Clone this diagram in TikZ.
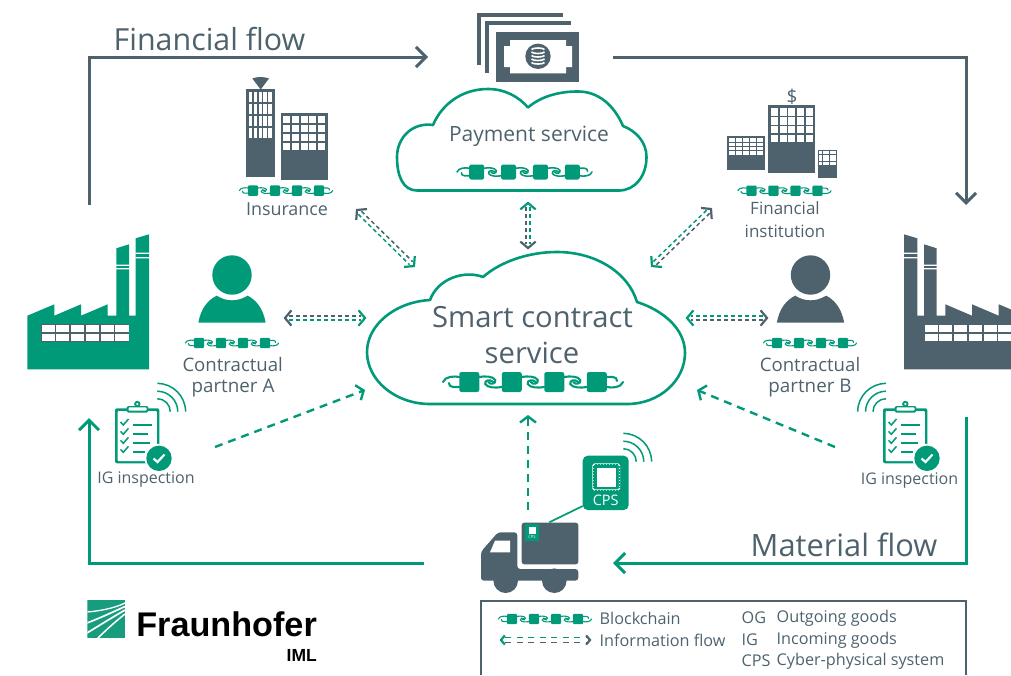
\documentclass[tikz,border=0pt]{standalone}
\usepackage{fontspec}
\setmainfont{Open Sans}
\newfontfamily\logofont{Liberation Sans}
\usetikzlibrary{calc,arrows.meta}
\definecolor{fhgreen}{HTML}{009A78}
\definecolor{fhgray}{HTML}{4E626D}
\definecolor{logogreen}{HTML}{179C7D}
\newcommand\fsz[1]{\fontsize{#1}{#1}\selectfont}
% white window cells
\newcommand\winds[7]{%
  \pgfmathsetmacro\wincw{(#3-#1-(#5-1)*#7)/#5}%
  \pgfmathsetmacro\winch{(#4-#2-(#6-1)*#7)/#6}%
  \foreach \i in {1,...,#5}{\foreach \j in {1,...,#6}{%
    \fill[white] ({#1+(\i-1)*(\wincw+#7)},{#2+(\j-1)*(\winch+#7)}) rectangle +(\wincw,\winch);
  }}}
% blockchain icon: x y scale
\newcommand\blockchain[3]{%
  \pgfmathsetmacro\chw{#3*2.1}%
  \pgfmathsetmacro\chr{#3*2.2}%
  \begin{scope}[shift={(#1,#2)},scale=#3]
    \foreach \bx in {-63.75,-21.25,21.25,63.75}{
      \fill[fhgreen,rounded corners=\chr pt] ({\bx-10},-10) rectangle ({\bx+10},10);}
    \begin{scope}[draw=fhgreen,line width=\chw pt,line cap=round]
      \foreach \bx in {-63.75,-21.25,21.25}{
        \draw ({\bx+10},-5) .. controls ({\bx+15},-6) and ({\bx+24},-6) .. ({\bx+26},-2) .. controls ({\bx+27},2) and ({\bx+21},3) .. ({\bx+19},0);
        \draw ({\bx+32.5},5) .. controls ({\bx+27},6) and ({\bx+18},6) .. ({\bx+16},2) .. controls ({\bx+15},-2) and ({\bx+21},-3) .. ({\bx+24},0);
      }
      \draw (-73.75,-5) .. controls (-78,-6) and (-88,-6) .. (-90,0);
      \draw (-73.75,5) -- (-80,5) .. controls (-83,5) and (-84,3) .. (-84,1);
      \draw (73.75,-5) -- (80,-5) .. controls (83,-5) and (84,-3) .. (84,-1);
      \draw (73.75,5) .. controls (78,6) and (88,6) .. (90,0);
    \end{scope}
  \end{scope}}
% double dashed information flow: [chevron length] a b colour-a colour-b
\newcommand\infoflow[5][10]{%
  \draw[infoline,#4] ($(#2)!4pt!(#3)!2.2pt!90:(#3)$) -- ($(#3)!4pt!(#2)!2.2pt!-90:(#2)$);
  \draw[infoline,#5] ($(#2)!4pt!(#3)!2.2pt!-90:(#3)$) -- ($(#3)!4pt!(#2)!2.2pt!90:(#2)$);
  \draw[chev,#4] ($(#2)!#1pt!50:(#3)$) -- (#2) -- ($(#2)!#1pt!-50:(#3)$);
  \draw[chev,#5] ($(#3)!#1pt!50:(#2)$) -- (#3) -- ($(#3)!#1pt!-50:(#2)$);
}
% factory drawn in the coordinates of the left one
\newcommand\factory[2]{%
  \fill[#1] (27.3,315.7) -- (54.3,304.3) -- (54.3,315.7) -- (81,304.3) -- (81,315.7) -- (107.7,304.3) -- (107.7,315.7)
    -- (116.3,315.7) -- (116.3,248.3) -- (129,244.3) -- (129,315.7) -- (135.7,315.7) -- (135.7,238.3) -- (149,234.3)
    -- (149,369.3) -- (27.3,369.3) -- cycle;
  \fill[white] (116,264.6) rectangle (129.3,265.9) (116,268) rectangle (129.3,269.3);
  \fill[white] (135.4,252.6) rectangle (149.3,253.9) (135.4,257) rectangle (149.3,258.3);
  \fill[#2] (40.7,323.7) rectangle (129.3,341.7);
  \winds{41.5}{324.5}{128.5}{340.9}{6}{2}{1.6}
}
\newcommand\persontwo[2]{%
  \begin{scope}[shift={(#1,0)}]
    \fill[#2] (232,275) circle[radius=19.7pt];
    \fill[#2] (198.3,322.7) .. controls (201,308) and (208,300) .. (216.7,295.7) .. controls (222,299) and (227,300.3) .. (232,300.3)
      .. controls (237,300.3) and (242,299) .. (247.7,295.7) .. controls (256,300) and (263,308) .. (265.7,322.7) -- cycle;
  \end{scope}}
% quarter wave arcs: x y direction
\newcommand\waves[3]{%
  \begin{scope}[shift={(#1,#2)},xscale=#3]
    \foreach \r in {13,20.5,28.3}{
      \draw[fhgreen,line width=1.5pt] (0,-\r) .. controls ({.55*\r},-\r) and (\r,{-.55*\r}) .. (\r,0);}
  \end{scope}}
\newcommand\clipcheck[1]{%
  \begin{scope}[shift={(#1,0)}]
    \fill[fhgreen,rounded corners=2pt] (115,408.3) rectangle (159.3,463.3);
    \fill[white,rounded corners=1pt] (117.6,411) rectangle (156.8,461);
    \fill[fhgreen] (137.3,404) circle[radius=3.2pt];
    \fill[white] (137.3,404) circle[radius=1.2pt];
    \fill[fhgreen,rounded corners=1.5pt] (126.7,406) rectangle (148.3,412.6);
    \fill[white,rounded corners=.8pt] (128.5,407.3) rectangle (146.5,410.6);
    \foreach \cy/\ll in {425/152.3,434.3/148,443.3/150,452.3/145}{
      \draw[fhgreen,line width=1.7pt] (133.3,\cy) -- (\ll,\cy);
      \draw[fhgreen,line width=1.5pt] (120.5,{\cy-3}) -- (123.3,{\cy}) -- (128.5,{\cy-6});
    }
    \fill[white] (159,458.3) circle[radius=14.4pt];
    \fill[fhgreen] (159,458.3) circle[radius=12.7pt];
    \draw[white,line width=2.2pt] (153.5,458.5) -- (157.5,462) -- (164.5,454.5);
  \end{scope}}
\tikzset{
  x=1pt,y=-1pt,
  lab/.style={text=fhgray,inner sep=0pt,align=center},
  cloudline/.style={draw=fhgreen,line width=2.6pt,line join=round},
  infoline/.style={line width=1.5pt,dash pattern=on 4pt off 3pt},
  chev/.style={line width=2.2pt,line join=miter},
  finflow/.style={draw=fhgray,line width=3pt,line join=miter,-{Straight Barb[length=10pt,width=20pt]}},
  matflow/.style={draw=fhgreen,line width=3pt,line join=miter,-{Straight Barb[length=10pt,width=20pt]}},
  dashflow/.style={draw=fhgreen,line width=2.4pt,dash pattern=on 8pt off 6pt,-{Straight Barb[length=6pt,width=16pt]}},
  leg/.style={text=fhgray,inner sep=0pt,anchor=west,font=\fsz{16.2}},
}
\begin{document}
\begin{tikzpicture}
\useasboundingbox (0,0) rectangle (1011,675);
% connector end points
\coordinate (finStart) at (89,205);
\coordinate (finCornerL) at (89,57);
\coordinate (finToMoney) at (428,57);
\coordinate (finFromMoney) at (613,57);
\coordinate (finCornerR) at (966,57);
\coordinate (finEnd) at (966,205);
\coordinate (matStart) at (966,417);
\coordinate (matCornerR) at (966,563);
\coordinate (matToTruck) at (613,563);
\coordinate (matFromTruck) at (424,563);
\coordinate (matCornerL) at (89,563);
\coordinate (matEnd) at (89,418);
\coordinate (insEnd) at (357,210);
\coordinate (insSmart) at (414,266);
\coordinate (payEnd) at (528,203);
\coordinate (paySmart) at (528,248);
\coordinate (bankEnd) at (711,209);
\coordinate (bankSmart) at (652,266);
\coordinate (partA) at (285,318);
\coordinate (partASmart) at (365,318);
\coordinate (partB) at (767,318);
\coordinate (partBSmart) at (687,318);
\coordinate (igA) at (215,447);
\coordinate (igASmart) at (365,390);
\coordinate (igB) at (835,447);
\coordinate (igBSmart) at (697,390);
\coordinate (truckUp) at (528,510);
\coordinate (truckSmart) at (528,415);
\coordinate (legA) at (501,640);
\coordinate (legB) at (590,640);
% flows
\draw[finflow] (finStart) -- (finCornerL) -- (finToMoney);
\draw[finflow] (finFromMoney) -- (finCornerR) -- (finEnd);
\draw[matflow] (matStart) -- (matCornerR) -- (matToTruck);
\draw[matflow] (matFromTruck) -- (matCornerL) -- (matEnd);
\node[lab,font=\fsz{30.4}] (fftext) at (209.5,39) {Financial flow};
\node[lab,font=\fsz{30.8}] (mftext) at (844,545) {Material flow};
% money
\fill[fhgray] (496,31.7) rectangle (579.3,81.7);
\draw[fhgray,line width=4pt] (487.3,72.7) -- (487.3,23.3) -- (571.3,23.3);
\draw[fhgray,line width=4pt] (479.3,64.7) -- (479.3,14.7) -- (562.7,14.7);
\fill[white] (510,40) -- (566,40) -- (566,46) -- (572,46) -- (572,67) -- (566,67) -- (566,73.3) -- (510,73.3) -- (510,67) -- (504,67) -- (504,46) -- (510,46) -- cycle;
\fill[fhgray] (538,56.3) circle[radius=12.7pt];
\foreach \cy in {52,55.5,59,62.5}{\draw[white,line width=1.6pt] (531.5,\cy) .. controls (533,{\cy+2}) and (543,{\cy+2}) .. (544.5,\cy);}
\draw[white,line width=1.6pt] (531.5,49.5) .. controls (533,47.5) and (543,47.5) .. (544.5,49.5);
% payment cloud
\path[cloudline] (417,190.5) -- (619,190.5) .. controls (635,190.5) and (646.5,176) .. (646.5,157) .. controls (646.5,142) and (636,131) .. (623,126)
  .. controls (614,105) and (598,91) .. (577,91.5) .. controls (558,91.5) and (540,97) .. (528,107.5)
  .. controls (519,97) and (505,89) .. (488,89) .. controls (462,89) and (442,104) .. (433,125)
  .. controls (412,122) and (397,138) .. (397,157) .. controls (397,176) and (403,190.5) .. (417,190.5) -- cycle;
\node[lab,font=\fsz{21}] (paytext) at (529,136) {Payment service};
\blockchain{524.5}{172}{0.75}
% smart contract cloud
\path[cloudline] (430,404) -- (627,404) .. controls (660,404) and (685,380) .. (685,353) .. controls (685,328) and (662,310) .. (637,302)
  .. controls (628,272) and (595,252) .. (557,252) .. controls (528,252) and (500,262) .. (483,277)
  .. controls (465,270) and (438,278) .. (430,300) .. controls (395,302) and (367,325) .. (367,352) .. controls (367,380) and (395,404) .. (430,404) -- cycle;
\node[lab,font=\fsz{29.2}] (smart1) at (532.5,317) {Smart contract};
\node[lab,font=\fsz{29.2}] (smart2) at (532,353) {service};
\blockchain{533}{382}{1}
% insurance
\fill[fhgray] (252.3,78.5) .. controls (257,76.5) and (264,76.5) .. (269,78.5) -- (260.7,89.5) -- cycle;
\fill[fhgray] (245.7,89.3) rectangle (275,177.3);
\winds{248.7}{91.7}{271.7}{138.3}{5}{4}{1.6}
\fill[fhgray] (280.7,112.7) rectangle (328.3,180);
\winds{283.3}{116}{325}{150}{5}{4}{1.5}
\blockchain{286}{190.6}{0.518}
\node[lab,font=\fsz{17.9}] (instext) at (287,209) {Insurance};
% financial institution
\fill[fhgray] (768,105.3) rectangle (815.3,172.7);
\winds{771}{108.3}{812.7}{142.3}{5}{4}{1.5}
\fill[fhgray] (727.3,136) rectangle (764.7,170.3);
\winds{729.3}{138.3}{762.7}{154.7}{5}{4}{.8}
\fill[fhgray] (818,149.7) rectangle (837.3,177.7);
\winds{819.3}{151.3}{836}{164.7}{5}{4}{.6}
\node[lab,font=\fsz{19}] (dollar) at (792,97) {\$};
\blockchain{784.5}{190.7}{0.518}
\node[lab,font=\fsz{17}] (bank1) at (785,208) {Financial};
\node[lab,font=\fsz{17}] (bank2) at (785,231) {institution};
% factories
\factory{fhgreen}{fhgray}
\begin{scope}
  \clip (0,0) rectangle (1011,675);
  \begin{scope}[shift={(1053,0)},xscale=-1]
    \factory{fhgray}{fhgray}
  \end{scope}
\end{scope}
% persons
\persontwo{0}{fhgreen}
\persontwo{578.5}{fhgray}
\blockchain{232}{343}{0.518}
\blockchain{810}{343}{0.518}
\node[lab,font=\fsz{18.6}] (a1) at (232.7,365) {Contractual};
\node[lab,font=\fsz{18.8}] (a2) at (233,388) {partner A};
\node[lab,font=\fsz{18.6}] (b1) at (810,365) {Contractual};
\node[lab,font=\fsz{18.8}] (b2) at (810,388) {partner B};
% IG inspection
\clipcheck{0}
\clipcheck{768}
\waves{157.3}{411.7}{1}
\waves{886}{411.7}{-1}
\node[lab,font=\fsz{16}] (iga) at (146,480) {IG inspection};
\node[lab,font=\fsz{16}] (igb) at (909.5,481) {IG inspection};
% information flows
\infoflow{insEnd}{insSmart}{fhgray}{fhgreen}
\infoflow{payEnd}{paySmart}{fhgreen}{fhgray}
\infoflow{bankEnd}{bankSmart}{fhgray}{fhgreen}
\infoflow{partA}{partASmart}{fhgray}{fhgreen}
\infoflow{partB}{partBSmart}{fhgray}{fhgreen}
\draw[dashflow] (igA) -- (igASmart);
\draw[dashflow] (igB) -- (igBSmart);
\draw[dashflow] (truckUp) -- (truckSmart);
% truck
\fill[fhgray,rounded corners=2.5pt] (521.7,564.3) -- (521.7,522.7) -- (578.3,522.7) -- (578.3,564.3) -- cycle;
\fill[fhgray,rounded corners=3pt] (517.3,569) -- (517.3,532.3) -- (498,532.3) -- (481,551.7) -- (481,580.7) -- (578.3,580.7) -- (578.3,569) -- cycle;
\fill[fhgray] (505.7,580.7) circle[radius=12.3pt];
\fill[fhgray] (554.3,580.7) circle[radius=12.3pt];
\fill[white] (495,540.7) -- (510,540.7) -- (510,552.3) -- (490,552.3) -- cycle;
\fill[fhgreen] (524.7,524) rectangle (539.3,541);
\fill[white] (528.5,526.5) rectangle (535.5,534);
\node[inner sep=0pt,text=white,font=\fsz{4}] (cpssmall) at (532,537.5) {CPS};
% CPS
\coordinate (cpsLineA) at (549.3,522.3);
\coordinate (cpsLineB) at (582.7,506);
\draw[fhgreen,line width=1.7pt] (cpsLineA) -- (cpsLineB);
\fill[fhgreen,rounded corners=5pt] (582.7,455.7) rectangle (628.7,510);
\draw[white,line width=1.2pt,rounded corners=1.5pt] (593,464) rectangle (619.5,490);
\fill[white] (596.7,467.7) rectangle (615.8,486.7);
\draw[fhgreen,line width=.8pt,dash pattern=on 1.5pt off 1.5pt] (593,466) -- (593,488) (619.5,466) -- (619.5,488) (595,464) -- (617.5,464) (595,490) -- (617.5,490);
\node[inner sep=0pt,text=white,font=\fsz{14.5}] (cpstext) at (605.7,500) {CPS};
\waves{623.3}{461.7}{1}
% legend
\draw[fhgray,line width=2.4pt] (481.2,675) -- (481.2,601.2) -- (966.2,601.2) -- (966.2,675);
\blockchain{545}{619}{0.518}
\begin{scope}[infoline/.append style={dash pattern=on 6pt off 5.5pt,line width=1.3pt}]
\infoflow[6]{legA}{legB}{fhgreen}{fhgray}
\end{scope}
\node[leg] (l1) at (599.5,618) {Blockchain};
\node[leg] (l2) at (599.5,640) {Information flow};
\node[leg] (l3) at (741.5,618) {OG};
\node[leg] (l4) at (741.5,640) {IG};
\node[leg] (l5) at (741.5,661) {CPS};
\node[leg] (l6) at (776.5,618) {Outgoing goods};
\node[leg] (l7) at (776.5,640) {Incoming goods};
\node[leg] (l8) at (776.5,661) {Cyber-physical system};
% logo
\begin{scope}
  \clip (87.3,600) rectangle (125,637.7);
  \fill[logogreen] (87.3,600) rectangle (125,637.7);
  \begin{scope}[draw=white,line width=1.3pt]
    \draw (87,612) .. controls (100,611) and (115,608) .. (125,603);
    \draw[line width=1.7pt] (87,623) .. controls (100,618) and (113,612) .. (125,606.5);
    \draw[line width=1.7pt] (87,633) .. controls (100,625) and (113,617) .. (125,610);
    \draw[line width=1.5pt] (98,638) .. controls (106,630) and (116,621) .. (125,614);
  \end{scope}
\end{scope}
\node[inner sep=0pt,anchor=base east,font=\logofont\bfseries\fsz{34.2}] (fraun) at (317,636.7) {Fraunhofer};
\node[inner sep=0pt,anchor=base east,font=\logofont\bfseries\fsz{17.5}] (iml) at (317,661.7) {IML};
\end{tikzpicture}
\end{document}
